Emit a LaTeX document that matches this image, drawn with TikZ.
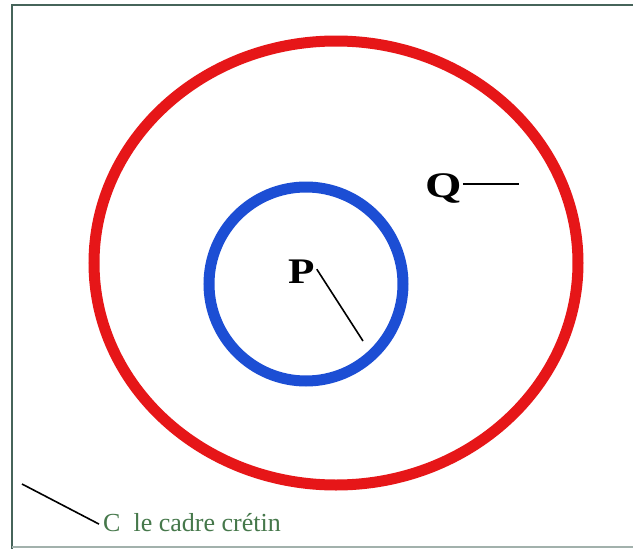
\documentclass[tikz,border=0pt]{standalone}
\usepackage{fontspec}
\usepackage{graphicx}
\setmainfont{Liberation Serif}
\definecolor{ringred}{RGB}{230,22,24}
\definecolor{ringblue}{RGB}{28,78,212}
\definecolor{framecol}{RGB}{70,100,90}
\definecolor{textgreen}{RGB}{70,120,75}
\begin{document}
\begin{tikzpicture}[x=1pt,y=-1pt,
  biglabel/.style={inner sep=0pt,anchor=base west,font=\fontsize{36}{40}\selectfont\bfseries},
  smalllabel/.style={inner sep=0pt,anchor=base west,text=textgreen,font=\fontsize{26}{30}\selectfont},
  pointer/.style={draw=black,line width=1.6pt}]
\useasboundingbox (0,0) rectangle (633,549);
\fill[white] (0,0) rectangle (633,549);
\begin{scope}
\clip (0,0) rectangle (633,549);
\draw[framecol,line width=2.2pt] (12,640) -- (12,5) -- (700,5);
\draw[framecol!50,line width=1.2pt] (12,547) -- (700,547);
\end{scope}
% red ring
\draw[ringred,line width=11pt] (336,263) ellipse [x radius=242, y radius=222];
% blue ring
\draw[ringblue,line width=11pt] (306,284) circle [radius=97];
% labels
\node[biglabel] (P) at (288,283) {\scalebox{1.2}[1]{P}};
\coordinate (pend) at (363,341);
\draw[pointer] ([xshift=2pt,yshift=2pt]P.east) -- (pend);
\node[biglabel] (Q) at (425,197) {\scalebox{1.3}[1]{Q}};
\coordinate (qend) at (519,184);
\draw[pointer] ([xshift=1pt]Q.east |- qend) -- (qend);
\node[smalllabel] (C) at (103,531) {C\ \ le cadre crétin};
\coordinate (cend) at (22,484);
\draw[pointer] ([xshift=-4pt,yshift=-2pt]C.west) -- (cend);
\end{tikzpicture}
\end{document}
